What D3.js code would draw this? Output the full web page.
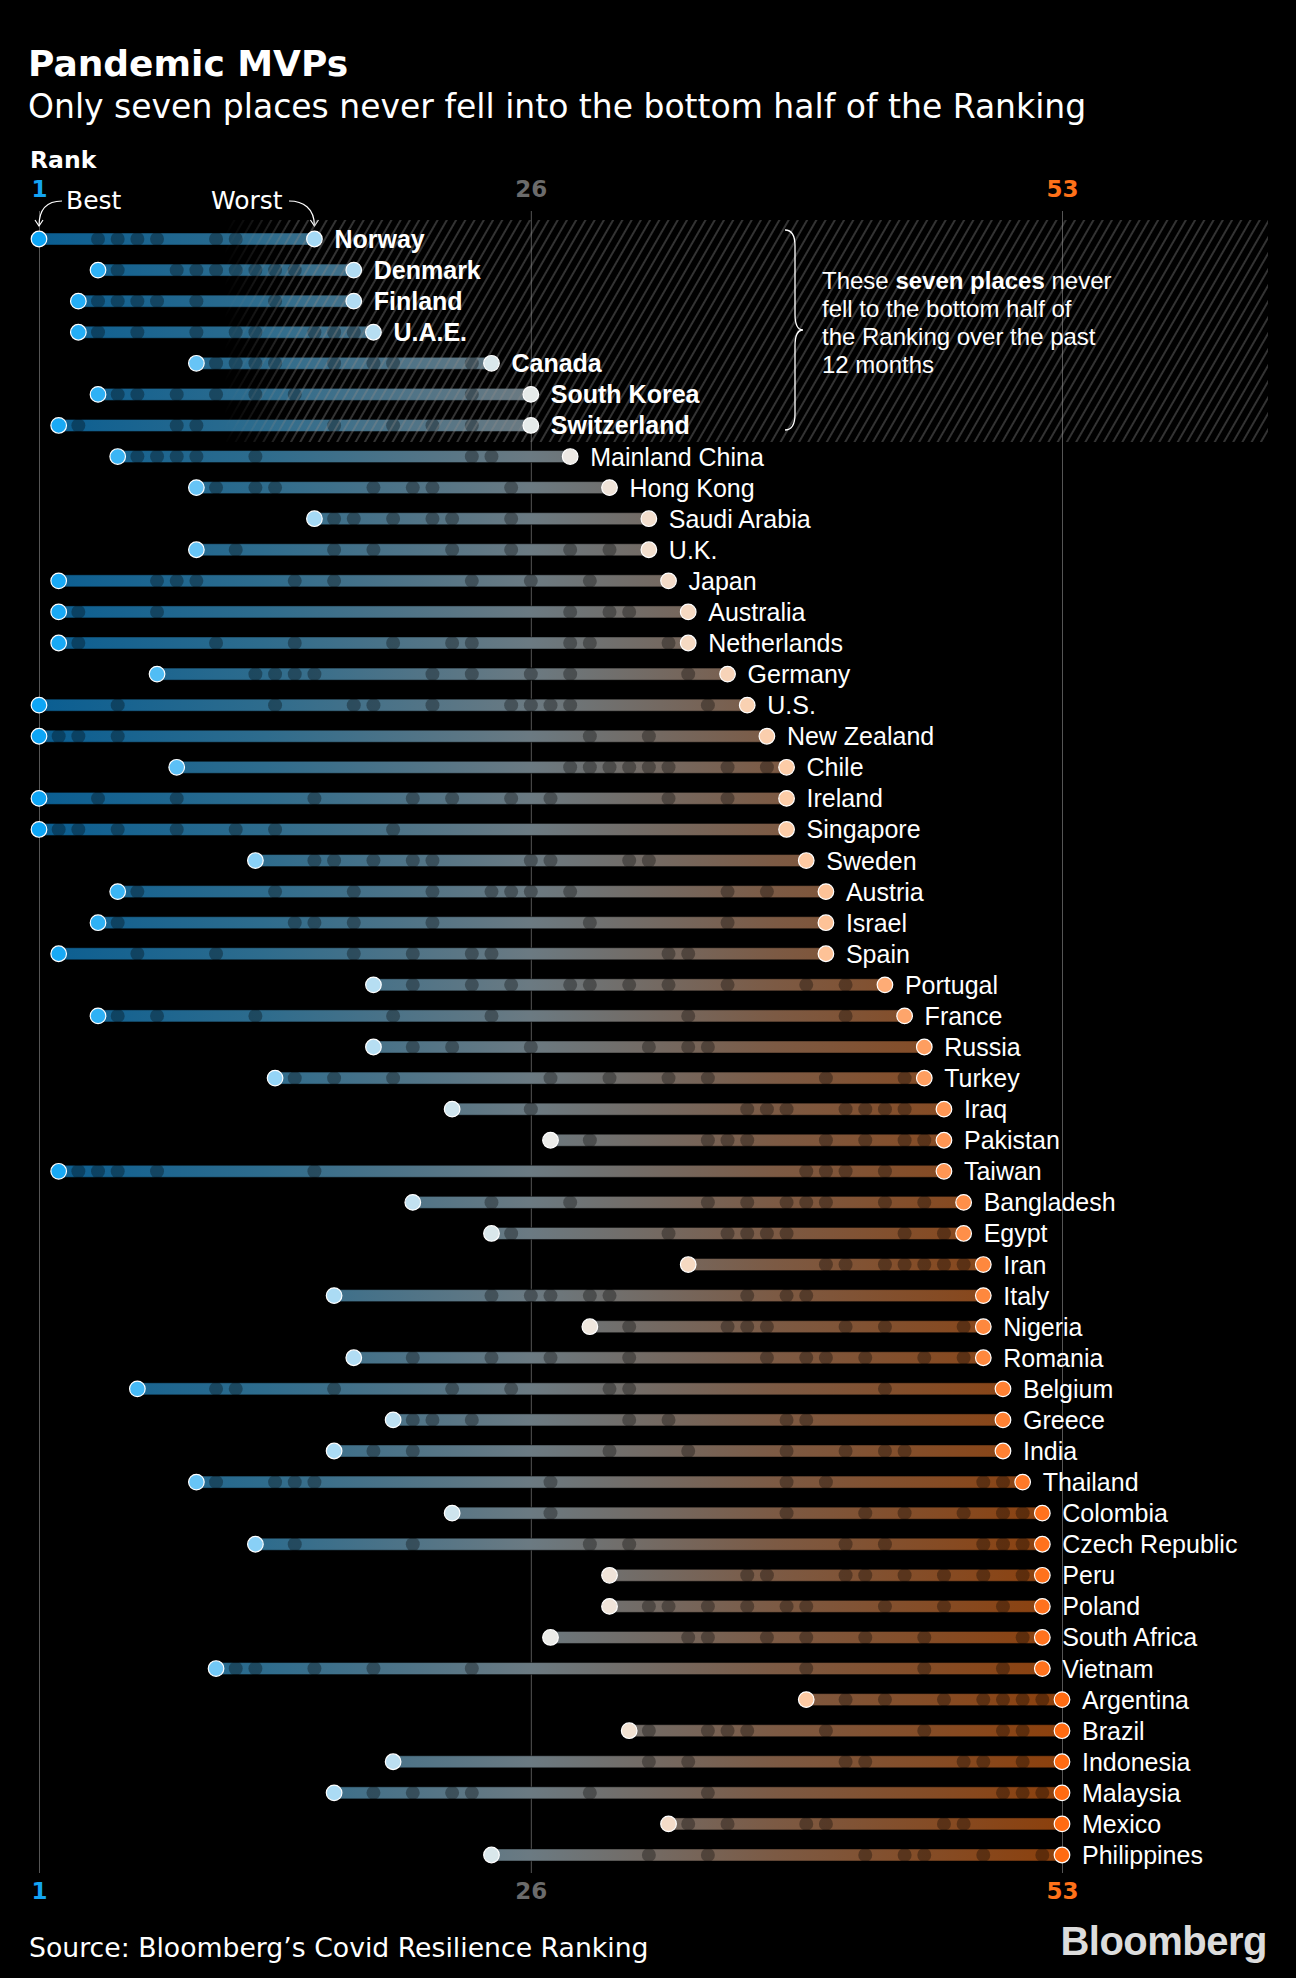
<!DOCTYPE html>
<html>
<head>
<meta charset="utf-8">
<script src="https://cdn.jsdelivr.net/npm/d3@7"></script>
<style>
  html, body { margin: 0; padding: 0; background: #000; }
  svg { display: block; }
</style>
</head>
<body>
<svg id="chart" width="1296" height="1978"></svg>
<script>
// ---------------- DATA ----------------
const countries = ["Norway","Denmark","Finland","U.A.E.","Canada","South Korea","Switzerland","Mainland China","Hong Kong","Saudi Arabia","U.K.","Japan","Australia","Netherlands","Germany","U.S.","New Zealand","Chile","Ireland","Singapore","Sweden","Austria","Israel","Spain","Portugal","France","Russia","Turkey","Iraq","Pakistan","Taiwan","Bangladesh","Egypt","Iran","Italy","Nigeria","Romania","Belgium","Greece","India","Thailand","Colombia","Czech Republic","Peru","Poland","South Africa","Vietnam","Argentina","Brazil","Indonesia","Malaysia","Mexico","Philippines"];

const bestRank = [1,4,3,3,9,4,2,5,9,15,9,2,2,2,7,1,1,8,1,1,12,5,4,2,18,4,18,13,22,27,2,20,24,34,16,29,17,6,19,16,9,22,12,30,30,27,10,40,31,19,16,33,24];

const worstRank = [15,17,17,18,24,26,26,28,30,32,32,33,34,34,36,37,38,39,39,39,40,41,41,41,44,45,46,46,47,47,47,48,48,49,49,49,49,50,50,50,51,52,52,52,52,52,52,53,53,53,53,53,53];

// ranks held in the other months
const otherRanks = [
  [4,5,6,7,10,11],
  [5,8,9,10,11,12,13,14],
  [4,5,6,7,9,13],
  [4,6,9,11,12,15,16,17],
  [10,11,12,13,16,18,19,23],
  [5,6,8,10,12,14,23],
  [3,8,9,16,19,21,23],
  [6,7,8,9,12,23,24],
  [10,12,13,18,20,21,25],
  [16,17,19,21,22,25],
  [11,16,18,22,25,28,30],
  [7,8,9,14,16,23,26,29],
  [3,7,28,30,31],
  [3,10,14,19,22,23,28,29,33],
  [12,13,14,15,21,23,26,28,34],
  [5,13,17,18,21,25,26,27,28,35],
  [2,3,5,29,32],
  [28,29,30,31,32,33,36,38],
  [4,8,15,20,22,25,27,33,36],
  [2,3,5,8,11,13,19],
  [15,16,18,20,21,26,27,31,32],
  [6,13,17,21,24,25,26,28,36,38],
  [5,14,15,17,21,29,36],
  [6,10,17,20,23,24,33,34],
  [20,23,25,28,29,31,33,36,40,42],
  [5,7,12,19,24,34,42],
  [20,22,26,32,34,35],
  [14,16,19,27,30,33,35,41,45],
  [26,37,38,39,42,43,44,45],
  [29,35,36,37,41,43,45,46],
  [3,4,5,7,15,40,41,42,44],
  [24,28,35,37,39,40,41,44,46],
  [25,33,36,37,38,39,45,47],
  [41,42,44,45,46,47,48],
  [24,26,27,29,30,37,39,40],
  [31,36,37,38,42,44,48],
  [20,24,27,31,38,40,41,43,46,48],
  [10,11,16,22,25,30,31,44],
  [20,21,23,31,33,39,40],
  [18,20,30,34,39,42,44,45],
  [10,13,14,15,27,39,41,49,50],
  [27,39,43,45,48,50,51],
  [14,20,29,31,42,44,49,50,51],
  [37,38,42,43,45,47,49,51],
  [32,33,35,37,39,40,44,47,50],
  [34,35,38,40,43,46,51],
  [11,12,15,18,23,40,46,50],
  [42,44,47,49,50,51,52],
  [32,35,36,37,41,46,50,51],
  [32,34,42,43,48,49,51],
  [18,20,22,23,29,35,50,51,52],
  [34,36,40,41,47,48],
  [32,35,43,45,46,49,52]
];

const highlighted = ["Norway","Denmark","Finland","U.A.E.","Canada","South Korea","Switzerland"];
const tickRanks = [1, 26, 53];
const tickColors = ["#14a4f2", "#6b6b6b", "#ff7119"];

const title = "Pandemic MVPs";
const subtitle = "Only seven places never fell into the bottom half of the Ranking";
const sourceText = "Source: Bloomberg\u2019s Covid Resilience Ranking";

// ---------------- CHART ----------------
const svg = d3.select("#chart");
const rows = countries.map((c, i) => ({name: c, best: bestRank[i], worst: worstRank[i], others: otherRanks[i]}));

const x = d3.scaleLinear().domain([1, 53]).range([39, 1062]);
const y = d3.scalePoint().domain(countries).range([239, 1855]);
const dotColor = d3.scaleLinear()
  .domain([1, 14, 27, 40, 53])
  .range(["#0ea5f5", "#9fd8f6", "#ebebe8", "#fdc9a2", "#ff6b12"]);

const defs = svg.append("defs");
const grad = defs.append("linearGradient").attr("id", "barGrad")
  .attr("gradientUnits", "userSpaceOnUse")
  .attr("x1", x(1)).attr("x2", x(53)).attr("y1", 0).attr("y2", 0);
[[0, "#0a5e92"], [0.22, "#2e6c8d"], [0.48, "#6b7a82"], [0.72, "#7c5a44"], [1, "#8c400c"]]
  .forEach(([o, c]) => grad.append("stop").attr("offset", o).attr("stop-color", c));

const pat = defs.append("pattern").attr("id", "hatch")
  .attr("patternUnits", "userSpaceOnUse").attr("width", 8).attr("height", 8)
  .attr("patternTransform", "rotate(30)");
pat.append("line").attr("x1", 1).attr("x2", 1).attr("y1", 0).attr("y2", 8)
  .attr("stroke", "#8a8a8a").attr("stroke-width", 1);

const fadeGrad = defs.append("linearGradient").attr("id", "fadeGrad")
  .attr("gradientUnits", "userSpaceOnUse").attr("x1", 223).attr("x2", 300).attr("y1", 0).attr("y2", 0);
fadeGrad.append("stop").attr("offset", 0).attr("stop-color", "#fff").attr("stop-opacity", 0);
fadeGrad.append("stop").attr("offset", 1).attr("stop-color", "#fff").attr("stop-opacity", 1);
defs.append("mask").attr("id", "fadeMask")
  .append("rect").attr("x", 223).attr("y", 220).attr("width", 1045).attr("height", 222).attr("fill", "url(#fadeGrad)");

// titles
svg.append("text").attr("x", 28).attr("y", 76).text(title)
  .attr("fill", "#fff").attr("font-family", "DejaVu Sans").attr("font-weight", "bold").attr("font-size", 36);
svg.append("text").attr("x", 28).attr("y", 118).text(subtitle)
  .attr("fill", "#fff").attr("font-family", "DejaVu Sans").attr("font-size", 33);
svg.append("text").attr("x", 30).attr("y", 168).text("Rank")
  .attr("fill", "#fff").attr("font-family", "DejaVu Sans").attr("font-weight", "bold").attr("font-size", 23.5);

// gridlines + bottom axis labels
const gridTop = 211, gridBottom = 1873;
const bottomAxis = d3.axisBottom(x).tickValues(tickRanks).tickSize(-(gridBottom - gridTop)).tickPadding(10).tickFormat(d3.format("d"));
const gB = svg.append("g").attr("transform", `translate(0,${gridBottom})`).call(bottomAxis);
gB.select(".domain").remove();
gB.selectAll(".tick line").attr("stroke", "#555").attr("stroke-width", 1);
gB.selectAll(".tick text")
  .attr("font-family", "DejaVu Sans").attr("font-weight", "bold").attr("font-size", 23)
  .attr("fill", (d, i) => tickColors[i]);

const topAxis = d3.axisTop(x).tickValues(tickRanks).tickSize(0).tickPadding(14).tickFormat(d3.format("d"));
const gT = svg.append("g").attr("transform", `translate(0,${gridTop})`).call(topAxis);
gT.select(".domain").remove();
gT.selectAll(".tick text")
  .attr("font-family", "DejaVu Sans").attr("font-weight", "bold").attr("font-size", 23)
  .attr("fill", (d, i) => tickColors[i]);

// Best / Worst annotations
const annoFont = {"font-family": "DejaVu Sans", "font-size": 25, "fill": "#fff"};
const tBest = svg.append("text").attr("x", 66).attr("y", 209).text("Best");
const tWorst = svg.append("text").attr("x", 211).attr("y", 209).text("Worst");
[tBest, tWorst].forEach(t => Object.entries(annoFont).forEach(([k, v]) => t.attr(k, v)));
const bx = x(bestRank[0]), wx = x(worstRank[0]);
svg.append("path").attr("d", `M62,201 C48,201 ${bx},208 ${bx},226`)
  .attr("fill", "none").attr("stroke", "#fff").attr("stroke-width", 1.2);
svg.append("path").attr("d", `M${bx - 4},220 L${bx},226 L${bx + 4},220`)
  .attr("fill", "none").attr("stroke", "#fff").attr("stroke-width", 1.2);
svg.append("path").attr("d", `M289,201 C303,201 ${wx},208 ${wx},226`)
  .attr("fill", "none").attr("stroke", "#fff").attr("stroke-width", 1.2);
svg.append("path").attr("d", `M${wx - 4},220 L${wx},226 L${wx + 4},220`)
  .attr("fill", "none").attr("stroke", "#fff").attr("stroke-width", 1.2);

// bars
const barH = 12;
svg.append("g").selectAll("rect").data(rows).join("rect")
  .attr("x", d => x(d.best)).attr("width", d => x(d.worst) - x(d.best))
  .attr("y", d => y(d.name) - barH / 2).attr("height", barH)
  .attr("fill", "url(#barGrad)")
  .attr("stroke", "rgba(0,0,0,0.45)").attr("stroke-width", 1);

// monthly dots
const gm = svg.append("g");
rows.forEach(r => {
  gm.selectAll(null).data(r.others).join("circle")
    .attr("cx", d => x(d)).attr("cy", y(r.name)).attr("r", 7)
    .attr("fill", "#000").attr("fill-opacity", 0.32);
});

// hatched highlight box
svg.append("rect").attr("x", 223).attr("y", 220).attr("width", 1045).attr("height", 222)
  .attr("fill", "url(#hatch)").attr("mask", "url(#fadeMask)").attr("opacity", 0.75);

// brace
svg.append("path")
  .attr("d", "M785,230 C792,230 795,236 795,246 L795,314 C795,324 798,330 803,330 C798,330 795,336 795,346 L795,414 C795,424 792,430 785,430")
  .attr("fill", "none").attr("stroke", "#fff").attr("stroke-width", 1.3);

// annotation text
const note = svg.append("text").attr("font-family", "Liberation Sans, Arial, sans-serif").attr("font-size", 24).attr("fill", "#fff");
const l1 = note.append("tspan").attr("x", 822).attr("y", 289);
l1.append("tspan").text("These ");
l1.append("tspan").attr("font-weight", "bold").text("seven places");
l1.append("tspan").text(" never");
["fell to the bottom half of", "the Ranking over the past", "12 months"].forEach((t, i) => {
  note.append("tspan").attr("x", 822).attr("y", 317 + i * 28).text(t);
});

// endpoint dots
const ge = svg.append("g");
ge.selectAll(".best").data(rows).join("circle").attr("class", "best")
  .attr("cx", d => x(d.best)).attr("cy", d => y(d.name)).attr("r", 7.8)
  .attr("fill", d => dotColor(d.best)).attr("stroke", "#fff").attr("stroke-width", 1.2);
ge.selectAll(".worst").data(rows).join("circle").attr("class", "worst")
  .attr("cx", d => x(d.worst)).attr("cy", d => y(d.name)).attr("r", 7.8)
  .attr("fill", d => dotColor(d.worst)).attr("stroke", "#fff").attr("stroke-width", 1.2);

// labels
svg.append("g").selectAll("text").data(rows).join("text")
  .attr("x", d => x(d.worst) + 20).attr("y", d => y(d.name)).attr("dy", "0.36em")
  .attr("font-family", "Liberation Sans, Arial, sans-serif").attr("font-size", 25)
  .attr("font-weight", d => highlighted.includes(d.name) ? "bold" : "normal")
  .attr("fill", "#fff").text(d => d.name);

// footer
svg.append("text").attr("x", 29).attr("y", 1957).text(sourceText)
  .attr("fill", "#fff").attr("font-family", "DejaVu Sans").attr("font-size", 26.7);
svg.append("text").attr("x", 1267).attr("y", 1955).attr("text-anchor", "end").text("Bloomberg")
  .attr("fill", "#dcdcdc").attr("font-family", "Liberation Sans, Arial, sans-serif").attr("font-weight", "bold")
  .attr("font-size", 40).attr("letter-spacing", -0.5);
</script>
</body>
</html>
